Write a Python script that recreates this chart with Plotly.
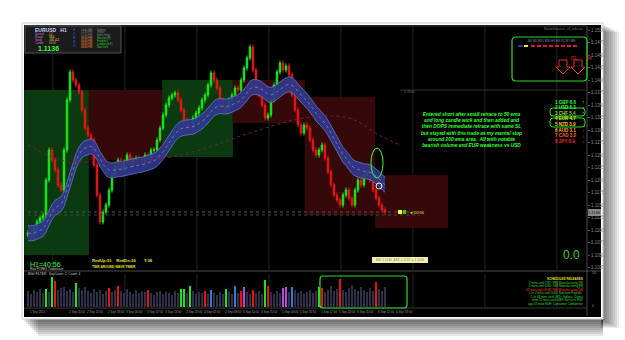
import plotly.graph_objects as go
import pandas as pd

W, H = 625, 340
def X(px): return px / W
def Y(py): return 1 - py / H

# ---------------- data ----------------
SYMBOL = "EURUSD"
TIMEFRAME = "H1"
LAST_PRICE = 1.1136
FIRST_OPEN = 1.1090
WICK = 0.0005
EMA_SPAN = 20
BAND_HALF = 0.0015

CLOSES = [
    1.1094, 1.1084, 1.1104, 1.1116, 1.1124, 1.1130, 1.1200, 1.1260, 1.1240, 1.1220,
    1.1190, 1.1180, 1.1260, 1.1360, 1.1416, 1.1400, 1.1390, 1.1376, 1.1340, 1.1304,
    1.1290, 1.1280, 1.1230, 1.1170, 1.1116, 1.1136, 1.1150, 1.1180, 1.1210, 1.1230,
    1.1240, 1.1220, 1.1236, 1.1250, 1.1230, 1.1240, 1.1244, 1.1240, 1.1236, 1.1250,
    1.1244, 1.1260, 1.1260, 1.1280, 1.1304, 1.1330, 1.1350, 1.1364, 1.1370, 1.1374,
    1.1360, 1.1340, 1.1320, 1.1310, 1.1306, 1.1324, 1.1334, 1.1344, 1.1360, 1.1370,
    1.1390, 1.1414, 1.1400, 1.1384, 1.1360, 1.1340, 1.1344, 1.1360, 1.1370, 1.1384,
    1.1380, 1.1400, 1.1424, 1.1444, 1.1466, 1.1420, 1.1384, 1.1370, 1.1350, 1.1324,
    1.1330, 1.1360, 1.1390, 1.1416, 1.1434, 1.1420, 1.1428, 1.1410, 1.1370, 1.1340,
    1.1310, 1.1294, 1.1310, 1.1304, 1.1280, 1.1260, 1.1250, 1.1260, 1.1270, 1.1244,
    1.1216, 1.1190, 1.1170, 1.1160, 1.1150, 1.1170, 1.1180, 1.1164, 1.1150, 1.1180,
    1.1200, 1.1190, 1.1210, 1.1216, 1.1200, 1.1180, 1.1164, 1.1150, 1.1140, 1.1136,
]

VOLUMES = [
    1600, 1300, 1700, 1500, 1800, 1400, 1800, 1500, 3000, 2600,
    1700, 1900, 2000, 1600, 1800, 1500, 2400, 1900, 1700, 2000,
    1600, 1400, 1800, 1500, 1700, 1300, 1600, 1900, 1500, 1700,
    2100, 1600, 1400, 1800, 1500, 1300, 1700, 1400, 1600, 1500,
    1700, 1400, 1200, 1500, 1600, 1300, 1500, 1400, 1200, 1600,
    1400, 1800, 1800, 1400, 2100, 1600, 1300, 1500, 1400, 1600,
    1300, 1700, 1400, 1200, 1500, 1300, 1800, 1500, 1300, 2100,
    1400, 1600, 2000, 1500, 1300, 1700, 1400, 1600, 1300, 2700,
    2100, 1500, 1300, 1600, 1400, 1900, 2000, 1500, 2000, 1700,
    1400, 1600, 1300, 1500, 1700, 1400, 1600, 2000, 1900, 1500,
    1700, 2100, 1600, 1800, 2800, 1700, 1500, 1900, 2200, 1800,
    1600, 2000, 1700, 1500, 1900, 1600, 2500, 1800, 1600, 2000,
]
CLIMAX_UP = [6, 8, 16, 51, 52, 54, 66, 79, 97]
CLIMAX_DOWN = [9, 27, 30, 40, 59, 71, 75, 80, 98, 104, 116]
CHURN = [61, 69, 88]
CLIMAX_CHURN = [72, 85, 86]

EMA200_IDX = [0, 11, 24, 41, 55, 74, 92, 107, 117, 124]
EMA200_VAL = [1.1270, 1.1240, 1.1236, 1.1240, 1.1256, 1.1294, 1.1324, 1.1324, 1.1290, 1.1270]

SESSION_X0 = [-1.3, 20.3, 44.7, 68.3, 92.3, 115.7]
SESSION_X1 = [20.3, 44.7, 68.3, 92.3, 115.7, 140.0]
SESSION_HI = [1.1380, 1.1380, 1.1400, 1.1400, 1.1366, 1.1210]
SESSION_LO = [1.1050, 1.1240, 1.1246, 1.1314, 1.1130, 1.1104]
SESSION_UP = [True, False, True, False, False, False]

DAY_BREAK_IDX = [8.3, 32.3, 56.3, 80.3, 104.3, 128.3, 152.3, 176.3]

DATE_IDX = [0, 13, 19, 26, 32, 39, 45, 52, 58, 65, 71, 77, 84, 90, 97, 103, 109, 116, 122]
DATE_LBL = ["1 Sep 2015", "2 Sep 05:00", "2 Sep 11:00", "2 Sep 18:00", "3 Sep 00:00",
            "3 Sep 07:00", "3 Sep 13:00", "3 Sep 20:00", "4 Sep 02:00", "4 Sep 09:00",
            "4 Sep 15:00", "4 Sep 21:00", "5 Sep 04:00", "5 Sep 10:00", "5 Sep 17:00",
            "5 Sep 23:00", "6 Sep 05:00", "6 Sep 12:00", "6 Sep 18:00"]

STRENGTH_CCY = ["GBP", "USD", "CHF", "EUR", "NZD", "AUD", "CAD", "JPY"]
STRENGTH_VAL = [6.6, 6.3, 5.4, 4.7, 3.9, 3.1, 3.0, 0.9]

NOTE_LINES = [
    "Entered short after small retrace to 50 ema",
    "and long candle wick and then added and",
    "then DOPS immediate retrace with same SL",
    "but stayed with this trade as my mental stop",
    "around 200 ema area.  All with notable",
    "bearish volume and EUR weakness vs USD",
]

RELEASES = [
    ("SCHEDULED RELEASES", "#e8e020"),
    ("2 mins until CNY: PMI Manufacturing [M]", "#33dd33"),
    ("2 mins until USD: ISM Manufacturing [H]", "#33dd33"),
    ("32 mins(ago) EUR: PMI Manufacturing [M]", "#ff3030"),
    ("1 hr 2 mins until USD: Nonfarm Payrolls", "#33dd33"),
    ("1 hr 48 mins until USD: Jobless Claims", "#33dd33"),
    ("mins 12 mins until GBP: Services PMI", "#33dd33"),
    ("ago 18 mins EUR: Consumer Confidence", "#33dd33"),
]

SESSIONS = ["Sydney", "Tokyo", "Hong Kong", "Moscow (R)", "Frankfurt", "London (G-F)", "New York"]
SESSION_TIMES = ["10:40 PM", "12:40 PM", "12:40 PM", "03:40 PM", "06:40 PM", "08:40 PM", "08:40 PM"]

# ---------------- derived ----------------
idx = list(range(len(CLOSES)))
opens = [FIRST_OPEN] + CLOSES[:-1]
highs = [max(o, c) + WICK for o, c in zip(opens, CLOSES)]
lows = [min(o, c) - WICK for o, c in zip(opens, CLOSES)]
ema = pd.Series(CLOSES).ewm(span=EMA_SPAN, adjust=False).mean()
upper = (ema + BAND_HALF).tolist()
lower = (ema - BAND_HALF).tolist()

vol_colors = []
for i in idx:
    if i in CLIMAX_UP: vol_colors.append("#19e619")
    elif i in CLIMAX_DOWN: vol_colors.append("#ee1111")
    elif i in CHURN: vol_colors.append("#2a7fd0")
    elif i in CLIMAX_CHURN: vol_colors.append("#c040e0")
    else: vol_colors.append("#30304a")

# pixel geometry
PX_L, PX_R = 24, 587
PRICE_TOP, PRICE_BOT = 26, 270
VOL_TOP, VOL_BOT = 274, 307
X_RANGE = [-1.333, -1.333 + (PX_R - PX_L) / 3.0]
P_RANGE = [1.1560 - 0.0002 * PRICE_BOT, 1.1560 - 0.0002 * PRICE_TOP]

fig = go.Figure()
fig.add_trace(go.Scatter(x=idx, y=lower, mode="lines", line=dict(color="#6a74c8", width=0.8),
                         hoverinfo="skip"))
fig.add_trace(go.Scatter(x=idx, y=upper, mode="lines", line=dict(color="#6a74c8", width=0.8),
                         fill="tonexty", fillcolor="rgba(48,56,140,0.92)", hoverinfo="skip"))
fig.add_trace(go.Scatter(x=idx, y=ema.tolist(), mode="lines",
                         line=dict(color="#9aa0d8", width=0.6, dash="dot"), hoverinfo="skip"))
fig.add_trace(go.Scatter(x=EMA200_IDX, y=EMA200_VAL, mode="lines",
                         line=dict(color="#7a1a4a", width=1, dash="dot", shape="spline")))
fig.add_trace(go.Candlestick(
    x=idx, open=opens, high=highs, low=lows, close=CLOSES, whiskerwidth=0,
    increasing=dict(line=dict(color="#14f014", width=1), fillcolor="#14f014"),
    decreasing=dict(line=dict(color="#f01414", width=1), fillcolor="#f01414")))
fig.add_trace(go.Bar(x=idx, y=VOLUMES, marker=dict(color=vol_colors, line=dict(width=0)),
                     xaxis="x2", yaxis="y2"))

shapes = []
def prect(x0, y0, x1, y1, **kw):
    d = dict(type="rect", xref="paper", yref="paper", x0=X(x0), x1=X(x1), y0=Y(y1), y1=Y(y0))
    d.update(kw)
    shapes.append(d)
def pline(x0, y0, x1, y1, color, width=1, dash="solid", layer="above"):
    shapes.append(dict(type="line", xref="paper", yref="paper", x0=X(x0), x1=X(x1),
                       y0=Y(y0), y1=Y(y1), line=dict(color=color, width=width, dash=dash),
                       layer=layer))
def rrect_path(x0, y0, x1, y1, r):
    return (f"M {X(x0+r)},{Y(y0)} L {X(x1-r)},{Y(y0)} Q {X(x1)},{Y(y0)} {X(x1)},{Y(y0+r)} "
            f"L {X(x1)},{Y(y1-r)} Q {X(x1)},{Y(y1)} {X(x1-r)},{Y(y1)} L {X(x0+r)},{Y(y1)} "
            f"Q {X(x0)},{Y(y1)} {X(x0)},{Y(y1-r)} L {X(x0)},{Y(y0+r)} Q {X(x0)},{Y(y0)} {X(x0+r)},{Y(y0)} Z")
def poly(pts):
    return "M " + " L ".join(f"{X(a)},{Y(b)}" for a, b in pts) + " Z"

# shadows
for k in range(1, 9):
    prect(601, 24 + k, 603 + 2 * k, 320 + k, fillcolor="rgba(0,0,0,0.08)", line=dict(width=0), layer="below")
for k in range(1, 9):
    prect(22 + 2 * k, 318, 603, 320 + 2 * k, fillcolor="rgba(0,0,0,0.09)", line=dict(width=0), layer="below")
prect(22, 23, 603, 319, fillcolor="white", line=dict(color="#cfcfcf", width=1), layer="below")
prect(24, 25, 601, 317, fillcolor="black", line=dict(width=0), layer="below")

# session boxes
for x0, x1, hi, lo, up in zip(SESSION_X0, SESSION_X1, SESSION_HI, SESSION_LO, SESSION_UP):
    shapes.append(dict(type="rect", xref="x", yref="y", x0=x0, x1=x1, y0=lo, y1=hi,
                       fillcolor="#0b3a10" if up else "#350909", line=dict(width=0), layer="below"))
for d in DAY_BREAK_IDX:
    shapes.append(dict(type="line", xref="x", yref="paper", x0=d, x1=d, y0=Y(PRICE_BOT), y1=Y(PRICE_TOP),
                       line=dict(color="#262626", width=1), layer="below"))
    shapes.append(dict(type="line", xref="x", yref="paper", x0=d, x1=d, y0=Y(VOL_BOT), y1=Y(VOL_TOP),
                       line=dict(color="#262626", width=1), layer="below"))

# frame / separators
pline(24, 26, 587, 26, "#3a3a3a")
pline(587, 26, 587, 316, "#4a4a4a")
pline(24, 271, 601, 271, "#4a4a4a")
pline(24, 308, 587, 308, "#3a3a3a")
pline(400, 90, 587, 90, "#2e2e2e", layer="below")
pline(28, 212, 420, 212, "#555555", 1, "dot")
pline(28, 215, 420, 215, "#444444", 1, "dot")

# info panel
prect(25, 26, 121, 53, fillcolor="#1b1b1b", line=dict(color="#555", width=1))
# green top-right box
shapes.append(dict(type="path", xref="paper", yref="paper", path=rrect_path(512, 37, 587, 81, 4),
                   line=dict(color="#22e022", width=1.2)))
pline(518, 46, 523, 46, "#2a3a90", 2)
pline(524, 46, 528, 46, "#f0f020", 2)
for k in range(8):
    pline(531 + 6 * k, 46, 535 + 6 * k, 46, "#e01818", 2)
for dx in (0, 15):
    shapes.append(dict(type="path", xref="paper", yref="paper",
                       path=poly([(559+dx, 60), (567+dx, 60), (567+dx, 67), (570+dx, 67),
                                  (563+dx, 74), (556+dx, 67), (559+dx, 67)]),
                       line=dict(color="#ff2020", width=1)))
# strength boxes
shapes.append(dict(type="path", xref="paper", yref="paper", path=rrect_path(550, 108, 585, 116, 3),
                   line=dict(color="#22e022", width=1)))
shapes.append(dict(type="path", xref="paper", yref="paper", path=rrect_path(550, 118, 585, 127, 3),
                   line=dict(color="#22e022", width=1)))
# trade marks
shapes.append(dict(type="circle", xref="paper", yref="paper", x0=X(371), x1=X(383), y0=Y(178), y1=Y(148),
                   line=dict(color="#33ff33", width=1)))
shapes.append(dict(type="circle", xref="paper", yref="paper", x0=X(376), x1=X(382), y0=Y(189), y1=Y(183),
                   line=dict(color="white", width=1)))
prect(398, 210, 402, 214, fillcolor="#ffff00", line=dict(width=0))
prect(403, 210, 406, 214, fillcolor="#33cc33", line=dict(width=0))
# current price box on axis
prect(588, 209, 601, 216, fillcolor="#8a8a8a", line=dict(width=0))
# bottom yellow label
prect(372, 257, 428, 263, fillcolor="#f2f0a8", line=dict(width=0))
# volume green box
shapes.append(dict(type="path", xref="paper", yref="paper", path=rrect_path(320, 276, 407, 308, 3),
                   line=dict(color="#22e022", width=1.2)))

ann = []
def txt(x, y, s, size=4, color="#aaa", anchor="left", bold=False, italic=False, vanchor="middle"):
    if bold: s = f"<b>{s}</b>"
    if italic: s = f"<i>{s}</i>"
    ann.append(dict(x=X(x), y=Y(y), xref="paper", yref="paper", text=s, showarrow=False,
                    xanchor=anchor, yanchor=vanchor, font=dict(size=size, color=color,
                    family="Liberation Sans")))

txt(33, 29.5, f"{SYMBOL}   {TIMEFRAME}", 5, "#c8d0ff", bold=True)
for k, (lab, val, vc) in enumerate([("Spread", "0.0", "#ff7070"), ("Range", "74.0", "#ffff70"),
                                    ("Swap", "-0.6 -0.2", "#ffff70"), ("Candle", "00:56", "#ff9933")]):
    txt(33, 33.6 + 3.0 * k, lab, 2.7, "#d070d0")
    txt(47, 33.6 + 3.0 * k, val, 2.7, vc)
txt(36, 48.5, f"{LAST_PRICE:.4f}", 7, "#33ff33", bold=True)
txt(71, 38, "F<br>O<br>R<br>E<br>X", 3, "#5060ff")
for k, (tm, nm) in enumerate(zip(SESSION_TIMES, SESSIONS)):
    c1 = "#888" if k < 3 else "#ff9933"
    c2 = "#888" if k < 3 else "#33cc33"
    txt(79, 29.5 + 2.9 * k, tm, 2.6, c1)
    txt(95, 29.5 + 2.9 * k, nm, 2.6, c2)

txt(585, 29, "MarketSessions_v3_indicator", 3, "#777", anchor="right")
txt(551, 41, "M1 M5 M15 M30 H1 H4 D1 W1 MN", 3, "#8888cc", anchor="center")
txt(569, 58, "D1", 4.5, "#ff2020")
txt(584, 58, "H4", 4.5, "#ff2020")
txt(402, 92, "1.1500", 3.5, "#777")

strength_colors = ["#33ff33", "#33ff33", "#99dd33", "#ccee33", "#ffcc22", "#ffaa22", "#ff6633", "#ff2222"]
for k, (c, v) in enumerate(zip(STRENGTH_CCY, STRENGTH_VAL)):
    arrow = "↑" if k < 3 else "↓"
    acol = "#33ff33" if k < 3 else "#ff2020"
    yy = 102 + 5.6 * k
    txt(553, yy, f"{k+1} {c} {v:.1f}", 4.5, strength_colors[k], bold=True)
    txt(580, yy, arrow, 5, acol, bold=True)

ann.append(dict(x=X(471), y=Y(110), xref="paper", yref="paper", showarrow=False,
                text="<b><i>" + "<br>".join(NOTE_LINES) + "</i></b>", align="center",
                xanchor="center", yanchor="top",
                font=dict(size=4.8, color="#33ff33", family="Liberation Sans")))

txt(407, 212, "◄ 00:56", 4, "#e8e020")
txt(594, 212.5, f"{LAST_PRICE:.4f}", 4, "#111", anchor="center")
txt(400, 260, "BID 1.1136  ASK 1.1137  = 1.1136", 3.2, "#888", anchor="center")
txt(571, 255, "0.0", 12, "#33cc33", anchor="center")

txt(28, 264, "H1=40:56", 7, "#33ff33")
txt(28, 268.5, "Real FOREX Tradeshare", 3, "#ccc")
txt(90, 260, "RedUp:51    RedDn:36       T:38", 4.2, "#e8e020", bold=True)
txt(90, 267, "TIME AROUND WAVE TIMER", 3.2, "#e8e020", bold=True)
txt(26, 274, "BVol FILTER   StatCount: 2, Count: 4", 3.2, "#cccccc")

for k, (s, c) in enumerate(RELEASES):
    txt(585, 279 + 3.5 * k, s, 3, c, anchor="right", bold=(k == 0))
txt(590, 273, "16", 3.5, "#888")
txt(590, 306, "0", 3.5, "#888")

for i, lbl in zip(DATE_IDX, DATE_LBL):
    ann.append(dict(x=i, y=Y(311.5), xref="x2", yref="paper", text=lbl, showarrow=False,
                    xanchor="left", yanchor="middle",
                    font=dict(size=3, color="#999", family="Liberation Sans")))

fig.update_layout(
    width=W, height=H, margin=dict(l=0, r=0, t=0, b=0),
    paper_bgcolor="white", plot_bgcolor="rgba(0,0,0,0)", showlegend=False,
    bargap=0.35,
    xaxis=dict(domain=[X(PX_L), X(PX_R)], range=X_RANGE, anchor="y", showticklabels=False,
               showgrid=False, zeroline=False, rangeslider=dict(visible=False), fixedrange=True),
    yaxis=dict(domain=[Y(PRICE_BOT), Y(PRICE_TOP)], range=P_RANGE, side="right", anchor="x",
               dtick=0.0025, tick0=1.1, tickformat=".4f", showgrid=False, zeroline=False,
               ticks="outside", ticklen=2, tickcolor="#555",
               tickfont=dict(size=4.5, color="#8a8a8a", family="Liberation Sans")),
    xaxis2=dict(domain=[X(PX_L), X(PX_R)], range=X_RANGE, anchor="y2", showticklabels=False,
                showgrid=False, zeroline=False),
    yaxis2=dict(domain=[Y(VOL_BOT), Y(VOL_TOP)], range=[0, 3300], anchor="x2", side="right",
                showticklabels=False, showgrid=False, zeroline=False),
    shapes=shapes, annotations=ann,
)
fig.write_html("out.html")
